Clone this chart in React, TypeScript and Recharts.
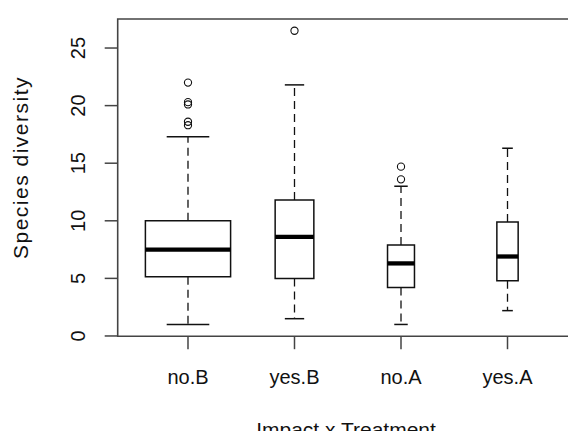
import React from 'react';
import {
  ComposedChart,
  XAxis,
  YAxis,
  Scatter,
  ReferenceArea,
  ReferenceLine
} from 'recharts';

// species diversity by impact x treatment group
const groups = ['no.B', 'yes.B', 'no.A', 'yes.A'];
const groupSizes = [160, 33, 16, 10];
const lowerWhisker = [1.0, 1.5, 1.0, 2.2];
const lowerHinge = [5.15, 5.0, 4.2, 4.8];
const medians = [7.5, 8.6, 6.3, 6.9];
const upperHinge = [10.0, 11.8, 7.9, 9.9];
const upperWhisker = [17.3, 21.8, 13.0, 16.3];
const outliers = [
  [18.3, 18.6, 20.1, 20.3, 22.0],
  [26.5],
  [13.6, 14.7],
  []
];
const yTicks = [0, 5, 10, 15, 20, 25];

const FONT = '"Liberation Sans", Arial, sans-serif';
const INK = '#111';
const FRAME = '#444';

// varwidth: box width grows with sqrt(n), widest box is 0.8
const maxN = Math.max(...groupSizes);
const boxWidths = groupSizes.map((n) => 0.8 * Math.sqrt(n / maxN));

const outlierData = outliers.flatMap((vals, i) =>
  vals.map((v) => ({ x: i + 1, y: v }))
);

const XTick = ({ x, y, payload }: any) => (
  <text x={x} y={y + 35} textAnchor="middle" fontSize={20} fontFamily={FONT} fill={INK}>
    {groups[payload.value - 1]}
  </text>
);

const YTick = ({ x, y, payload }: any) => {
  const tx = x - 19.7;
  return (
    <text
      x={tx}
      y={y}
      transform={`rotate(-90, ${tx}, ${y})`}
      textAnchor="middle"
      fontSize={20}
      fontFamily={FONT}
      fill={INK}
    >
      {payload.value}
    </text>
  );
};

const OpenCircle = ({ cx, cy }: any) => (
  <circle cx={cx} cy={cy} r={3.6} fill="none" stroke={INK} strokeWidth={1.1} />
);

const App: React.FC = () => {
  return (
    <div style={{ position: 'relative', margin: -8, width: 576, height: 439, overflow: 'hidden', background: '#fff' }}>
      <ComposedChart
        width={580}
        height={439}
        margin={{ top: 19, right: 2.2, bottom: 0, left: 0 }}
        data={outlierData}
      >
        <XAxis
          type="number"
          dataKey="x"
          domain={[0.34, 4.66]}
          ticks={[1, 2, 3, 4]}
          allowDataOverflow
          height={102.8}
          axisLine={false}
          tickLine={{ stroke: FRAME, strokeWidth: 1.5 }}
          tickSize={13}
          tickMargin={0}
          tick={<XTick />}
          interval={0}
        />
        <YAxis
          type="number"
          dataKey="y"
          domain={[-0.02, 27.52]}
          ticks={yTicks}
          allowDataOverflow
          width={117.7}
          axisLine={false}
          tickLine={{ stroke: FRAME, strokeWidth: 1.5 }}
          tickSize={13}
          tickMargin={0}
          tick={<YTick />}
          interval={0}
        />

        {/* plot frame */}
        <ReferenceArea
          x1={0.34}
          x2={4.66}
          y1={-0.02}
          y2={27.52}
          fill="none"
          stroke={FRAME}
          strokeWidth={1.6}
          fillOpacity={0}
          strokeOpacity={1}
        />

        {groups.map((g, i) => {
          const cx = i + 1;
          const half = boxWidths[i] / 2;
          const cap = boxWidths[i] / 4;
          return (
            <React.Fragment key={g}>
              <ReferenceLine
                segment={[{ x: cx, y: upperHinge[i] }, { x: cx, y: upperWhisker[i] }]}
                stroke={INK}
                strokeWidth={1.3}
                strokeDasharray="8 5"
              />
              <ReferenceLine
                segment={[{ x: cx, y: lowerHinge[i] }, { x: cx, y: lowerWhisker[i] }]}
                stroke={INK}
                strokeWidth={1.3}
                strokeDasharray="8 5"
              />
              <ReferenceLine
                segment={[{ x: cx - cap, y: upperWhisker[i] }, { x: cx + cap, y: upperWhisker[i] }]}
                stroke={INK}
                strokeWidth={1.5}
              />
              <ReferenceLine
                segment={[{ x: cx - cap, y: lowerWhisker[i] }, { x: cx + cap, y: lowerWhisker[i] }]}
                stroke={INK}
                strokeWidth={1.5}
              />
              <ReferenceArea
                x1={cx - half}
                x2={cx + half}
                y1={lowerHinge[i]}
                y2={upperHinge[i]}
                fill="#fff"
                fillOpacity={1}
                stroke={INK}
                strokeOpacity={1}
                strokeWidth={1.5}
              />
              <ReferenceLine
                segment={[{ x: cx - half, y: medians[i] }, { x: cx + half, y: medians[i] }]}
                stroke="#000"
                strokeWidth={4.3}
              />
            </React.Fragment>
          );
        })}

        <Scatter
          data={outlierData}
          dataKey="y"
          shape={<OpenCircle />}
          isAnimationActive={false}
        />
      </ComposedChart>

      {/* axis titles */}
      <svg
        width={576}
        height={439}
        style={{ position: 'absolute', left: 0, top: 0, pointerEvents: 'none' }}
      >
        <text x={346} y={436.5} textAnchor="middle" fontSize={21} fontFamily={FONT} fill={INK}>
          Impact x Treatment
        </text>
        <text
          x={28.3}
          y={167.5}
          transform="rotate(-90, 28.3, 167.5)"
          textAnchor="middle"
          fontSize={21}
          letterSpacing={1.5}
          fontFamily={FONT}
          fill={INK}
        >
          Species diversity
        </text>
      </svg>
    </div>
  );
};

export default App;
